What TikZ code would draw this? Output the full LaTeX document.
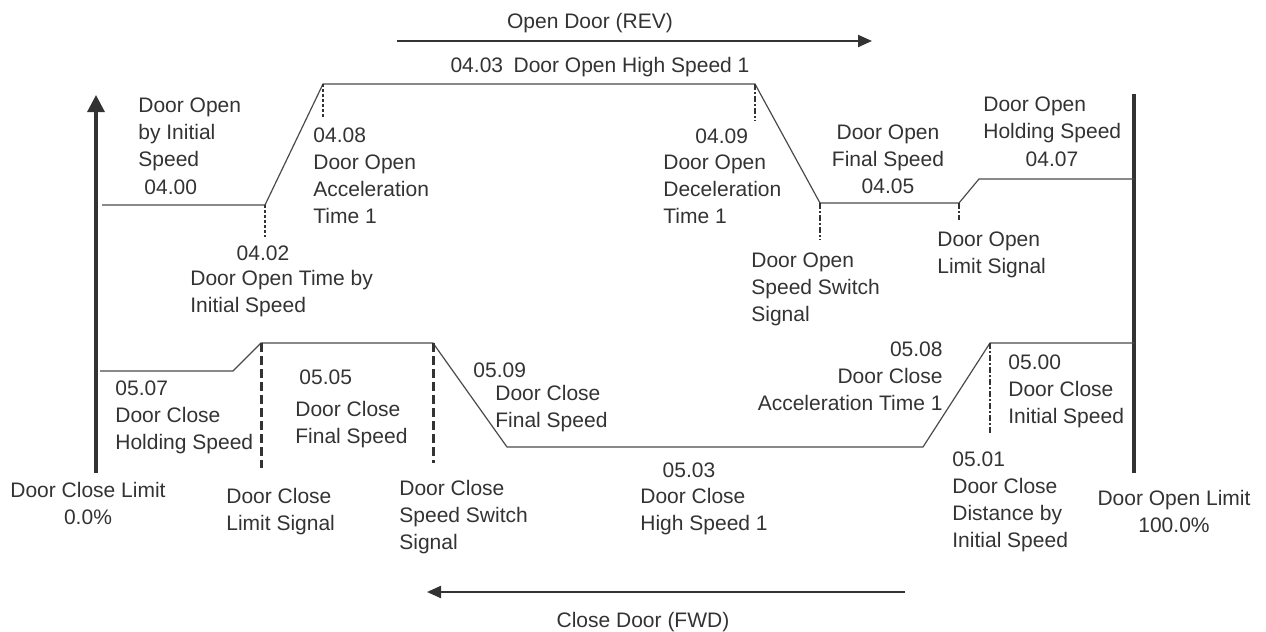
\documentclass[tikz,border=0pt]{standalone}
\usepackage{fontspec}
\setmainfont{Liberation Sans}
\usetikzlibrary{arrows.meta}
\definecolor{inkgray}{HTML}{333333}
\definecolor{linegray}{HTML}{4A4A4A}

\tikzset{
  lbl/.style={inner sep=0pt, text=inkgray, font=\fontsize{10.5}{13.5}\selectfont},
  lbl_l/.style={lbl, align=left, anchor=base west},
  lbl_c/.style={lbl, align=center, anchor=base},
  lbl_r/.style={lbl, align=right, anchor=base east},
}

\begin{document}
\begin{tikzpicture}[
  x=0.5pt, y=-0.5pt,
  profile/.style={linegray, line width=0.6pt},
  limit line/.style={inkgray, line width=1.6pt},
  dir arrow/.style={inkgray, line width=1.1pt, -{Triangle[length=7pt,width=6pt]}},
  dot mark/.style={inkgray, line width=1pt, dash pattern=on 1.5pt off 1pt},
  dashdot mark/.style={inkgray, line width=1pt, dash pattern=on 3pt off 1pt on 1pt off 1pt},
  dash mark/.style={inkgray, line width=1.5pt, dash pattern=on 4.5pt off 2pt},
  ]
  \useasboundingbox (0,0) rectangle (1266,632);

  % limits
  \draw[limit line, -{Triangle[length=8.5pt,width=8.5pt]}]
       (96,473) coordinate (cl_s) -- (96,95) coordinate (cl_e);
  \draw[limit line] (1134,94) coordinate (ol_s) -- (1134,473) coordinate (ol_e);

  % open profile
  \draw[profile] (102,205) -- (265,205) coordinate (o1) -- (323,84) coordinate (o2)
     -- (755,84) coordinate (o3) -- (820,203) coordinate (o4)
     -- (959,203) coordinate (o5) -- (979,179) -- (1134,179);

  % close profile
  \draw[profile] (100,371) -- (233,371) -- (261,343) coordinate (c1)
     -- (433,343) coordinate (c2) -- (507,447) -- (923,447)
     -- (990,343) coordinate (c3) -- (1134,343);

  \draw[dot mark] (o1) -- ++(0,32);
  \draw[dot mark] (o2) -- ++(0,33);
  \draw[dashdot mark] (o3) -- ++(0,37);
  \draw[dashdot mark] (o4) -- ++(0,37);
  \draw[dashdot mark] (o5) -- ++(0,17);
  \draw[dash mark] (c1) -- ++(0,125);
  \draw[dash mark] (c2) -- ++(0,120);
  \draw[dashdot mark] (c3) -- ++(0,90);

  % direction
  \draw[dir arrow] (397,41) coordinate (rev_s) -- (872,41) coordinate (rev_e);
  \draw[dir arrow] (905,592) coordinate (fwd_s) -- (427,592) coordinate (fwd_e);
  \node[lbl_c] (rev) at (590,28) {Open Door (REV)};
  \node[lbl_c] (fwd) at (643,627) {Close Door (FWD)};

  % open labels (base = last line)
  \node[lbl_c] (t0403) at (600,72) {04.03\enspace Door Open High Speed 1};
  \node[lbl_l] (t0400a) at (138,166) {Door Open\\by Initial\\Speed};
  \node[lbl_l] (t0400) at (144,194) {04.00};
  \node[lbl_l] (t0408) at (313,223) {04.08\\Door Open\\Acceleration\\Time 1};
  \node[lbl_c] (t0402) at (263,260) {04.02};
  \node[lbl_l] (t0402a) at (190,312) {Door Open Time by\\Initial Speed};
  \node[lbl_l] (t0409) at (695,143) {04.09};
  \node[lbl_l] (t0409a) at (663,223) {Door Open\\Deceleration\\Time 1};
  \node[lbl_c] (t0405) at (888,193) {Door Open\\Final Speed\\04.05};
  \node[lbl_l] (o_sw) at (751,321) {Door Open\\Speed Switch\\Signal};
  \node[lbl_l] (o_lim) at (937,273) {Door Open\\Limit Signal};
  \node[lbl_l] (t0407a) at (983,138) {Door Open\\Holding Speed};
  \node[lbl_c] (t0407) at (1052,166) {04.07};

  % close labels
  \node[lbl_l] (t0507) at (115,449) {05.07\\Door Close\\Holding Speed};
  \node[lbl_l] (t0505) at (299,384) {05.05};
  \node[lbl_l] (t0505a) at (295,443) {Door Close\\Final Speed};
  \node[lbl_c] (cl_lbl) at (88,524) {Door Close Limit\\0.0\%};
  \node[lbl_l] (c_lim) at (226,530) {Door Close\\Limit Signal};
  \node[lbl_l] (c_sw) at (399,549) {Door Close\\Speed Switch\\Signal};
  \node[lbl_l] (t0509) at (473,377) {05.09};
  \node[lbl_l] (t0509a) at (495,427) {Door Close\\Final Speed};
  \node[lbl_c] (t0503) at (689,477) {05.03};
  \node[lbl_l] (t0503a) at (640,530) {Door Close\\High Speed 1};
  \node[lbl_r] (t0508) at (943,410) {05.08\\Door Close\\Acceleration Time 1};
  \node[lbl_l] (t0500) at (1008,423) {05.00\\Door Close\\Initial Speed};
  \node[lbl_l] (t0501) at (952,547) {05.01\\Door Close\\Distance by\\Initial Speed};
  \node[lbl_c] (ol_lbl) at (1174,532) {Door Open Limit\\100.0\%};
\end{tikzpicture}
\end{document}
